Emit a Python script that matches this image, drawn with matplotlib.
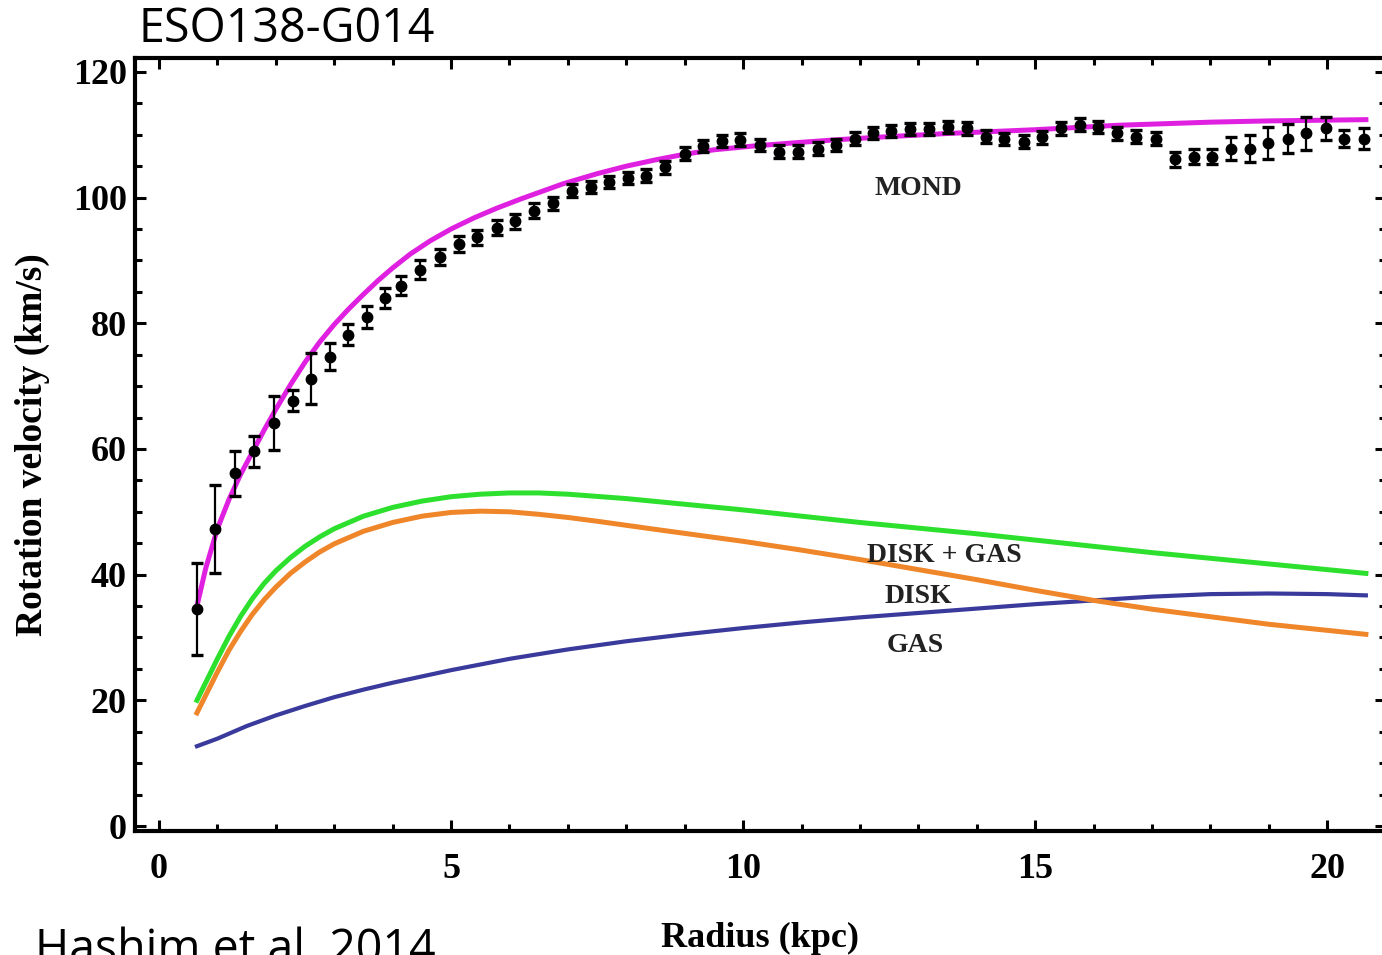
import matplotlib
matplotlib.use("Agg")
import matplotlib.pyplot as plt
from matplotlib.ticker import MultipleLocator

# ---- observed rotation curve (kpc, km/s, km/s) ----
r_obs = [0.645, 0.958, 1.30, 1.625, 1.97, 2.29, 2.60, 2.93, 3.24, 3.56, 3.87, 4.15,
         4.47, 4.81, 5.13, 5.45, 5.78, 6.09, 6.42, 6.75, 7.07, 7.39, 7.71, 8.03,
         8.34, 8.66, 9.00, 9.31, 9.63, 9.94, 10.28, 10.61, 10.94, 11.28, 11.59, 11.91,
         12.22, 12.53, 12.86, 13.18, 13.50, 13.83, 14.15, 14.47, 14.80, 15.11, 15.44, 15.76,
         16.07, 16.40, 16.73, 17.06, 17.40, 17.71, 18.03, 18.35, 18.67, 18.99, 19.32, 19.64,
         19.98, 20.29, 20.62]
v_obs = [34.5, 47.2, 56.1, 59.6, 64.1, 67.7, 71.2, 74.7, 78.2, 81.0, 84.0, 86.0,
         88.5, 90.5, 92.6, 93.7, 95.2, 96.2, 97.9, 99.1, 101.1, 101.7, 102.5, 103.1,
         103.5, 104.8, 107.0, 108.2, 109.0, 109.2, 108.4, 107.3, 107.3, 107.8, 108.4, 109.4,
         110.3, 110.6, 110.9, 110.9, 111.2, 111.0, 109.7, 109.3, 108.9, 109.6, 111.0, 111.6,
         111.2, 110.2, 109.7, 109.4, 106.1, 106.5, 106.5, 107.8, 107.8, 108.7, 109.4, 110.2,
         111.0, 109.4, 109.4]
e_obs = [7.3, 7.0, 3.6, 2.5, 4.3, 1.7, 4.1, 2.2, 1.7, 1.7, 1.6, 1.5,
         1.5, 1.3, 1.3, 1.2, 1.2, 1.2, 1.2, 1.0, 1.0, 1.0, 1.0, 1.0,
         1.0, 1.0, 1.0, 1.0, 1.0, 1.0, 1.0, 1.0, 1.0, 1.0, 1.0, 1.0,
         1.0, 1.0, 1.0, 1.0, 1.0, 1.0, 1.0, 1.0, 1.0, 1.0, 1.0, 1.0,
         1.0, 1.0, 1.0, 1.0, 1.2, 1.2, 1.2, 1.9, 2.1, 2.6, 2.3, 2.7,
         1.9, 1.3, 1.7]

# ---- model curves ----
r_mond = [0.65, 0.8, 1.0, 1.2, 1.4, 1.6, 1.8, 2.0, 2.25, 2.5, 2.75, 3.0, 3.25, 3.5, 3.75,
          4.0, 4.3, 4.64, 5.0, 5.4, 5.78, 6.2, 6.5, 6.92, 7.5, 8.0, 8.5, 9.0, 9.5, 10.17,
          11.0, 11.6, 12.3, 13.5, 15.0, 16.4, 18.0, 19.0, 20.66]
v_mond = [35.0, 41.0, 47.3, 52.0, 56.0, 59.5, 63.0, 66.3, 70.2, 73.8, 77.0, 79.8, 82.3, 84.6, 86.8,
          88.8, 91.0, 93.1, 95.0, 96.8, 98.3, 99.8, 100.8, 102.2, 103.8, 105.0, 106.0, 106.9, 107.6, 108.2,
          108.8, 109.2, 109.6, 110.2, 110.8, 111.5, 112.0, 112.2, 112.4]

r_dg = [0.65, 0.82, 1.0, 1.2, 1.4, 1.6, 1.8, 2.0, 2.25, 2.5, 2.75, 3.0, 3.5, 4.0, 4.5,
        5.0, 5.5, 6.0, 6.5, 7.0, 8.0, 9.0, 10.0, 11.0, 12.0, 13.0, 14.0, 15.0, 16.0, 17.0,
        18.0, 19.0, 20.66]
v_dg = [20.0, 23.2, 26.6, 30.2, 33.4, 36.2, 38.6, 40.6, 42.7, 44.5, 46.0, 47.3, 49.3, 50.7, 51.7,
        52.4, 52.8, 53.0, 53.0, 52.8, 52.1, 51.2, 50.3, 49.3, 48.3, 47.4, 46.5, 45.5, 44.5, 43.5,
        42.6, 41.7, 40.2]

r_disk = [0.65, 0.8, 1.0, 1.2, 1.4, 1.6, 1.8, 2.0, 2.25, 2.5, 2.75, 3.0, 3.5, 4.0, 4.5,
          5.0, 5.5, 6.0, 6.5, 7.0, 7.5, 8.5, 10.0, 11.0, 12.0, 13.0, 14.0, 15.0, 16.0, 17.0,
          18.0, 19.0, 20.66]
v_disk = [18.0, 20.8, 24.5, 28.0, 31.0, 33.7, 36.0, 38.0, 40.2, 42.0, 43.6, 44.9, 46.9, 48.3, 49.3,
          49.9, 50.1, 50.0, 49.6, 49.1, 48.5, 47.2, 45.3, 43.9, 42.4, 40.8, 39.2, 37.5, 35.9, 34.5,
          33.3, 32.1, 30.5]

r_gas = [0.65, 1.0, 1.5, 2.0, 2.5, 3.0, 3.5, 4.0, 5.0, 6.0, 7.0, 8.0, 9.0, 10.0, 11.0,
         12.0, 13.0, 14.0, 15.0, 16.0, 17.0, 18.0, 19.0, 20.0, 20.66]
v_gas = [12.7, 13.9, 15.9, 17.6, 19.1, 20.5, 21.7, 22.8, 24.8, 26.6, 28.1, 29.4, 30.5, 31.5, 32.4,
         33.2, 33.9, 34.6, 35.3, 35.9, 36.5, 36.9, 37.0, 36.9, 36.7]

labels = ["MOND", "DISK + GAS", "DISK", "GAS"]
label_pos = [(13.0, 101.4), (13.45, 43.0), (13.0, 36.6), (12.95, 28.8)]

serif = dict(family="Liberation Serif", weight="bold")

fig = plt.figure(figsize=(13.82, 9.55), dpi=100)
ax = fig.add_axes([0.0977, 0.1298, 0.905, 0.8094])

lw = 3.6
ax.plot(r_gas, v_gas, color="#3a3a9c", lw=3.0, zorder=2)
ax.plot(r_disk, v_disk, color="#f0862a", lw=lw, zorder=2)
ax.plot(r_dg, v_dg, color="#2ee02e", lw=lw, zorder=2)
ax.plot(r_mond, v_mond, color="#e020e0", lw=lw, zorder=2)
ax.errorbar(r_obs, v_obs, yerr=e_obs, fmt="o", color="black", ms=7.5,
            elinewidth=1.6, capsize=4.2, capthick=2.4, zorder=3)

for t, (x, y) in zip(labels, label_pos):
    ax.text(x, y, t, ha="center", va="center", fontsize=20, color="#222222", **serif)

ax.set_xlim(-0.41, 21.0)
ax.set_ylim(-0.8, 122.2)
ax.xaxis.set_major_locator(MultipleLocator(5))
ax.xaxis.set_minor_locator(MultipleLocator(1))
ax.yaxis.set_major_locator(MultipleLocator(20))
ax.yaxis.set_minor_locator(MultipleLocator(5))
ax.tick_params(which="both", direction="in", top=True, right=True, width=2.2)
ax.tick_params(which="major", length=8)
ax.tick_params(which="minor", length=5)
ax.tick_params(axis="x", pad=16)
ax.tick_params(axis="y", pad=6)
for s in ax.spines.values():
    s.set_linewidth(3)
for lab in ax.get_xticklabels() + ax.get_yticklabels():
    lab.set_fontfamily("Liberation Serif")
    lab.set_fontweight("bold")
    lab.set_fontsize(26)

ax.set_xlabel("Radius (kpc)", fontsize=26, labelpad=26, **serif)
ax.set_ylabel("Rotation velocity (km/s)", fontsize=27, labelpad=16, **serif)

fig.text(0.0999, 0.956, "ESO138-G014", fontsize=33.5, family="Open Sans", va="baseline")
fig.text(0.025, -0.008, "Hashim et al. 2014", fontsize=33.5, family="Open Sans", va="baseline")

fig.savefig("out.png", dpi=100, facecolor="white")
